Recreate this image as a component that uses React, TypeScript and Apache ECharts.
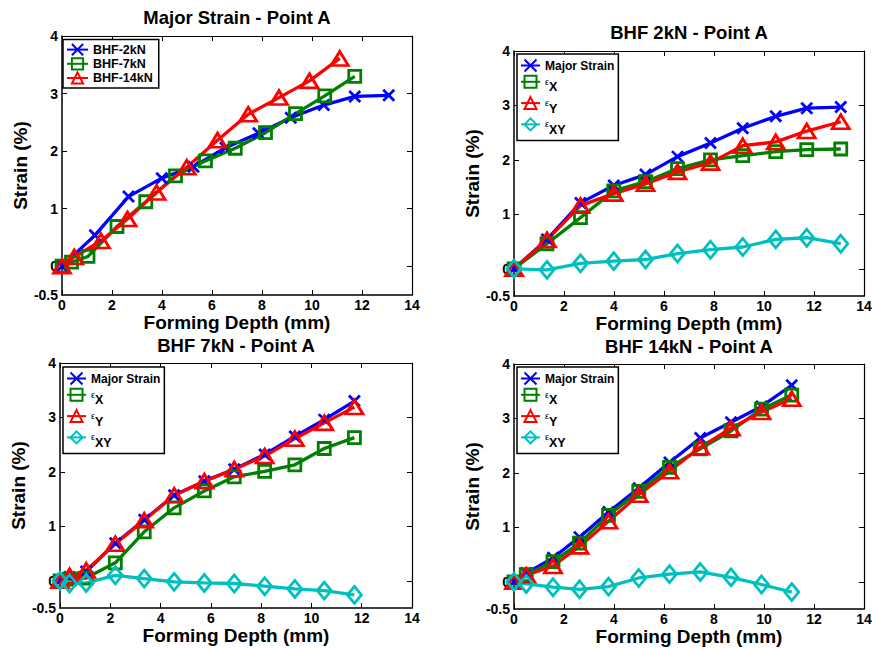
import React, { useEffect, useRef } from 'react';
import * as echarts from 'echarts';

const FONT = '"Liberation Sans", Arial, Helvetica, sans-serif';

// ---------- data ----------
const titles = ['Major Strain - Point A', 'BHF 2kN - Point A', 'BHF 7kN - Point A', 'BHF 14kN - Point A'];
const xAxisName = 'Forming Depth (mm)';
const yAxisName = 'Strain (%)';
const yTickValues = [-0.5, 0, 1, 2, 3, 4];
const yBoxTicks = [0, 1, 2, 3];
const legend1Names = ['BHF-2kN', 'BHF-7kN', 'BHF-14kN'];
const compNames = ['Major Strain', 'εX', 'εY', 'εXY'];

// BHF 2kN
const depth2 = [0, 1.32, 2.66, 3.99, 5.26, 6.54, 7.86, 9.15, 10.47, 11.71, 13.07];
const major2 = [0, 0.54, 1.21, 1.53, 1.73, 2.06, 2.31, 2.58, 2.8, 2.95, 2.97];
const ex2 = [0, 0.46, 0.94, 1.43, 1.6, 1.84, 2.0, 2.08, 2.15, 2.19, 2.2];
const ey2 = [0, 0.53, 1.16, 1.38, 1.56, 1.78, 1.95, 2.26, 2.33, 2.53, 2.7];
const exy2 = [0, -0.02, 0.1, 0.14, 0.17, 0.28, 0.35, 0.4, 0.54, 0.57, 0.46];

// BHF 7kN
const depth7 = [0, 0.38, 1.04, 2.2, 3.35, 4.54, 5.74, 6.93, 8.14, 9.34, 10.51, 11.71];
const major7 = [0, 0.07, 0.17, 0.69, 1.12, 1.57, 1.83, 2.05, 2.32, 2.65, 2.96, 3.3];
const ex7 = [0, 0.03, 0.05, 0.33, 0.9, 1.34, 1.65, 1.91, 2.01, 2.13, 2.43, 2.63];
const ey7 = [0, 0.09, 0.19, 0.68, 1.11, 1.57, 1.83, 2.05, 2.29, 2.61, 2.9, 3.19];
const exy7 = [0, -0.05, -0.04, 0.1, 0.04, -0.02, -0.04, -0.05, -0.1, -0.15, -0.18, -0.26];

// BHF 14kN
const depth14 = [0, 0.49, 1.56, 2.62, 3.78, 4.99, 6.22, 7.45, 8.68, 9.9, 11.11];
const major14 = [0, 0.16, 0.44, 0.82, 1.28, 1.72, 2.19, 2.64, 2.93, 3.22, 3.61];
const ex14 = [0, 0.13, 0.37, 0.71, 1.22, 1.66, 2.1, 2.44, 2.77, 3.17, 3.43];
const ey14 = [0, 0.12, 0.29, 0.65, 1.11, 1.6, 2.03, 2.47, 2.82, 3.12, 3.36];
const exy14 = [0, -0.04, -0.1, -0.14, -0.09, 0.07, 0.14, 0.18, 0.08, -0.05, -0.19];

// ---------- layout / style ----------
const grids = [
  { left: 62, top: 36, width: 350, height: 259 },
  { left: 514, top: 51, width: 350, height: 245 },
  { left: 60, top: 363, width: 352, height: 245 },
  { left: 514, top: 364, width: 350, height: 245 },
];
const titleY = [17, 32, 345, 346];
const legendPos = [
  { left: 63, top: 39.5 },
  { left: 517, top: 54 },
  { left: 63, top: 367 },
  { left: 517, top: 367 },
];

const X_PATH = 'path://M0,0L10,10M10,0L0,10';
const STY: Record<string, any> = {
  blue: { color: '#0000FF', symbol: X_PATH, symbolSize: 11 },
  green: { color: '#008000', symbol: 'rect', symbolSize: 12 },
  red: { color: '#FF0000', symbol: 'triangle', symbolSize: [17, 14] },
  cyan: { color: '#00BFBF', symbol: 'diamond', symbolSize: [14, 17] },
};

function mk(name: string, g: number, xs: number[], ys: number[], sty: any) {
  return {
    type: 'line',
    name,
    xAxisIndex: 2 * g,
    yAxisIndex: 2 * g,
    data: xs.map((x, i) => [x, ys[i]]),
    symbol: sty.symbol,
    symbolSize: sty.symbolSize,
    symbolKeepAspect: false,
    showSymbol: true,
    showAllSymbol: true,
    clip: false,
    silent: true,
    lineStyle: { color: sty.color, width: 3.3 },
    itemStyle: { color: 'rgba(0,0,0,0)', borderColor: sty.color, borderWidth: 2.8 },
    emphasis: { disabled: true },
  };
}

function buildOption() {
  const xAxes: any[] = [];
  const yAxes: any[] = [];
  grids.forEach((_, g) => {
    xAxes.push({
      type: 'value', gridIndex: g, min: 0, max: 14, interval: 2,
      name: xAxisName, nameLocation: 'middle', nameGap: 15,
      nameTextStyle: { fontFamily: FONT, fontWeight: 'bold', fontSize: 19, color: '#000' },
      axisLine: { show: true, onZero: false, lineStyle: { color: '#000', width: 1.5 } },
      axisTick: { show: true, inside: true, length: 5, lineStyle: { color: '#000', width: 1 } },
      axisLabel: { show: true, margin: 3, fontFamily: FONT, fontWeight: 'bold', fontSize: 14, color: '#000' },
      splitLine: { show: false },
    });
    xAxes.push({
      type: 'value', gridIndex: g, position: 'top', min: 0, max: 14, interval: 2,
      axisLine: { show: true, onZero: false, lineStyle: { color: '#000', width: 1.2 } },
      axisTick: { show: true, inside: true, length: 5, lineStyle: { color: '#000', width: 1 } },
      axisLabel: { show: false },
      splitLine: { show: false },
    });
    yAxes.push({
      type: 'value', gridIndex: g, min: -0.5, max: 4,
      name: yAxisName, nameLocation: 'middle', nameGap: 31, nameRotate: 90,
      nameTextStyle: { fontFamily: FONT, fontWeight: 'bold', fontSize: 19, color: '#000' },
      axisLine: { show: true, onZero: false, lineStyle: { color: '#000', width: 1.5 } },
      axisTick: { show: true, inside: true, length: 5, customValues: yBoxTicks, lineStyle: { color: '#000', width: 1 } },
      axisLabel: { show: true, margin: 4, customValues: yTickValues, fontFamily: FONT, fontWeight: 'bold', fontSize: 14, color: '#000' },
      splitLine: { show: false },
    });
    yAxes.push({
      type: 'value', gridIndex: g, position: 'right', min: -0.5, max: 4,
      axisLine: { show: true, onZero: false, lineStyle: { color: '#000', width: 1.2 } },
      axisTick: { show: true, inside: true, length: 5, customValues: yBoxTicks, lineStyle: { color: '#000', width: 1 } },
      axisLabel: { show: false },
      splitLine: { show: false },
    });
  });

  const series: any[] = [
    mk(legend1Names[0], 0, depth2, major2, STY.blue),
    mk(legend1Names[1], 0, depth7, major7, STY.green),
    mk(legend1Names[2], 0, depth14, major14, STY.red),

    mk(compNames[0], 1, depth2, major2, STY.blue),
    mk(compNames[1], 1, depth2, ex2, STY.green),
    mk(compNames[2], 1, depth2, ey2, STY.red),
    mk(compNames[3], 1, depth2, exy2, STY.cyan),

    mk(compNames[0], 2, depth7, major7, STY.blue),
    mk(compNames[1], 2, depth7, ex7, STY.green),
    mk(compNames[2], 2, depth7, ey7, STY.red),
    mk(compNames[3], 2, depth7, exy7, STY.cyan),

    mk(compNames[0], 3, depth14, major14, STY.blue),
    mk(compNames[1], 3, depth14, ex14, STY.green),
    mk(compNames[2], 3, depth14, ey14, STY.red),
    mk(compNames[3], 3, depth14, exy14, STY.cyan),
  ];

  const legendBase = {
    orient: 'vertical',
    backgroundColor: '#fff',
    borderColor: '#000',
    borderWidth: 1.5,
    borderRadius: 0,
    selectedMode: false,
  };

  const legends: any[] = [
    {
      ...legendBase,
      ...legendPos[0],
      data: legend1Names,
      itemWidth: 21,
      itemHeight: 14,
      itemGap: 1,
      padding: [3.5, 6, 3.5, 3],
      textStyle: { fontFamily: FONT, fontWeight: 'bold', fontSize: 12.5, color: '#000', lineHeight: 13 },
    },
  ];
  for (let g = 1; g < 4; g++) {
    legends.push({
      ...legendBase,
      ...legendPos[g],
      data: compNames,
      itemWidth: 19,
      itemHeight: 15,
      itemGap: 2.3,
      padding: [4.5, 4, 4, 3],
      formatter: (name: string) =>
        name.startsWith('ε') ? `{e|ε}{s|${name.slice(1)}}` : `{m|${name}}`,
      textStyle: {
        fontFamily: FONT, color: '#000',
        rich: {
          m: { fontFamily: FONT, fontWeight: 'bold', fontSize: 12, lineHeight: 18, color: '#000' },
          e: { fontFamily: FONT, fontSize: 9, lineHeight: 20, verticalAlign: 'middle', color: '#000' },
          s: { fontFamily: FONT, fontWeight: 'bold', fontSize: 12.5, lineHeight: 9, height: 9, verticalAlign: 'bottom', color: '#000' },
        },
      },
    });
  }

  const graphic = grids.map((gr, g) => ({
    type: 'text',
    x: gr.left + gr.width / 2,
    y: titleY[g],
    silent: true,
    style: {
      text: titles[g],
      font: `bold 18.5px ${FONT}`,
      fill: '#000',
      align: 'center',
      verticalAlign: 'middle',
      textAlign: 'center',
      textVerticalAlign: 'middle',
    },
  }));

  return {
    animation: false,
    backgroundColor: '#fff',
    grid: grids.map((gr) => ({ ...gr, containLabel: false, outerBoundsMode: 'none' })),
    xAxis: xAxes,
    yAxis: yAxes,
    legend: legends,
    graphic,
    series,
  };
}

export default function App() {
  const ref = useRef<HTMLDivElement>(null);
  useEffect(() => {
    if (!ref.current) return;
    const chart = echarts.init(ref.current, null, { renderer: 'svg' });
    chart.setOption(buildOption() as any);
    return () => chart.dispose();
  }, []);
  return (
    <div
      ref={ref}
      style={{ position: 'absolute', left: 0, top: 0, width: 872, height: 649, background: '#fff' }}
    />
  );
}
